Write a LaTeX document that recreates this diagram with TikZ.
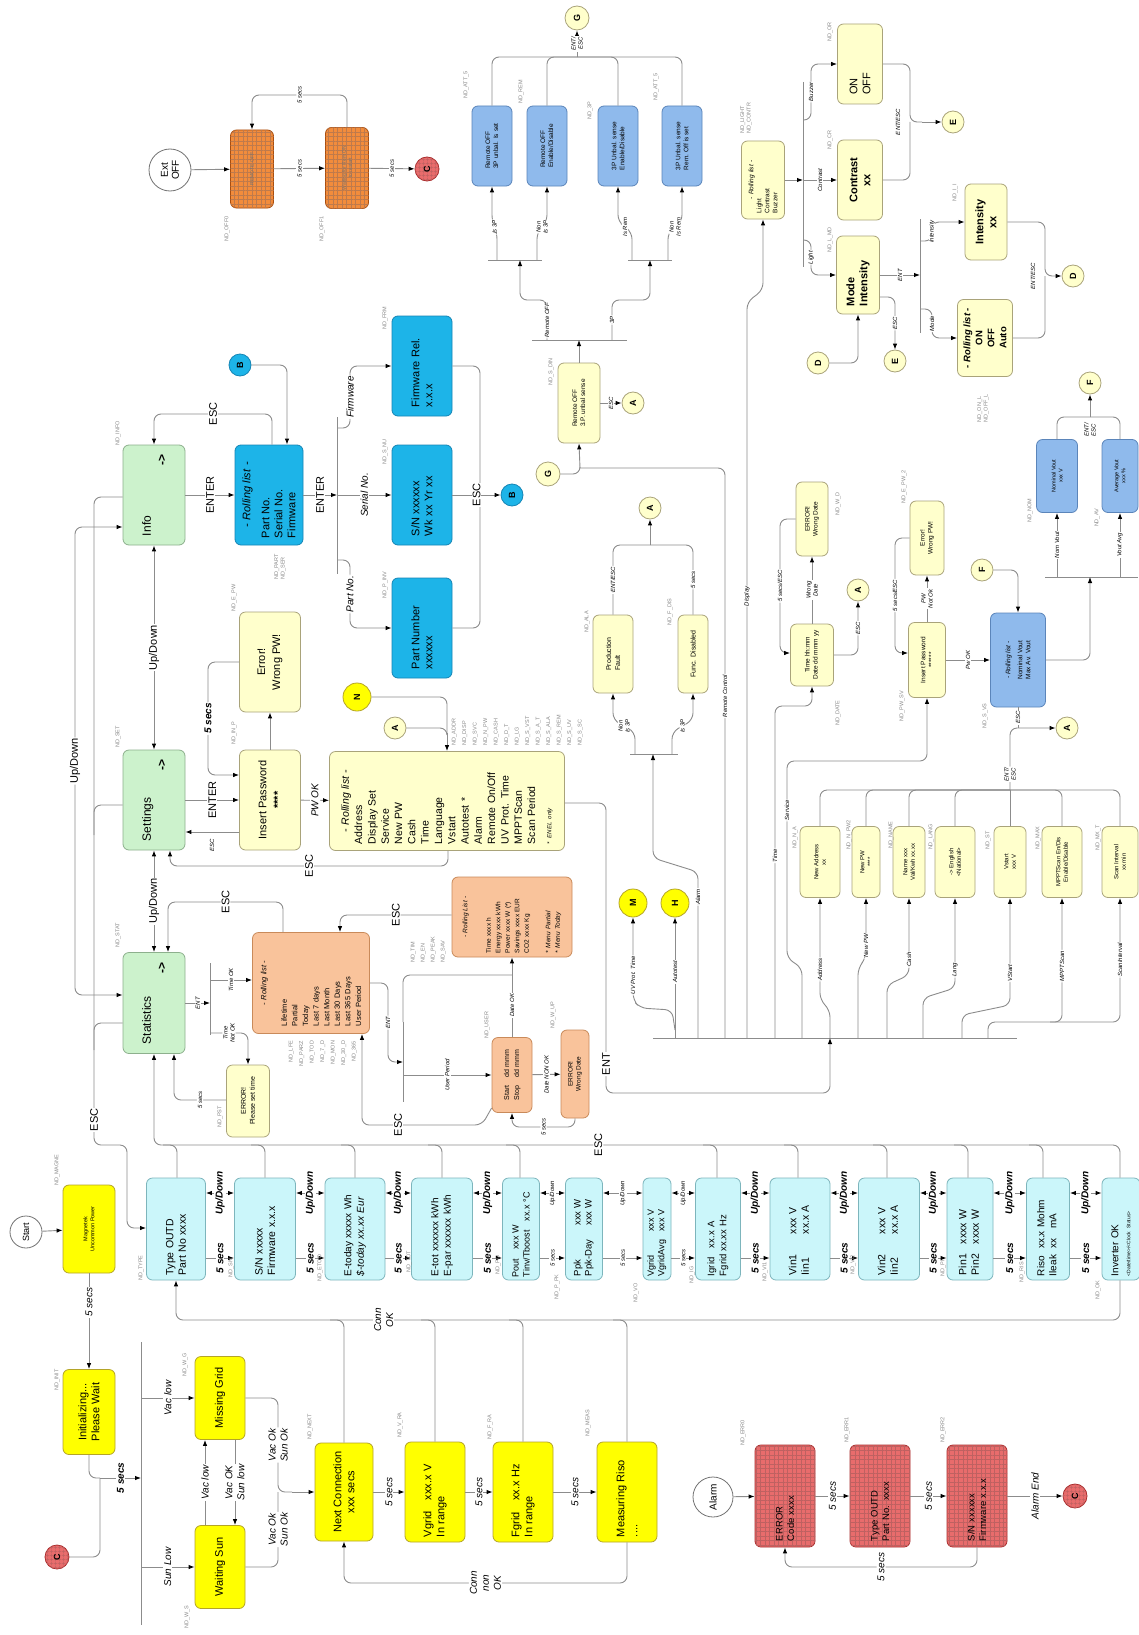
\documentclass[tikz,border=0pt]{standalone}
\usepackage{fontspec}
\setmainfont{Liberation Sans}
\usetikzlibrary{arrows.meta, patterns.meta}

\definecolor{lnC}{HTML}{8C8C8C}
\definecolor{grnF}{HTML}{CCF2CC}
\definecolor{grnD}{HTML}{8DB08D}
\definecolor{cyaF}{HTML}{1DB4E8}
\definecolor{cyaD}{HTML}{1585B5}
\definecolor{lcyF}{HTML}{CBF6FA}
\definecolor{lcyD}{HTML}{7DB5BC}
\definecolor{yelF}{HTML}{FFFF00}
\definecolor{yelD}{HTML}{B4A428}
\definecolor{lylF}{HTML}{FFFFCC}
\definecolor{lylD}{HTML}{A9A37A}
\definecolor{pchF}{HTML}{F9C39B}
\definecolor{pchD}{HTML}{C98A5A}
\definecolor{bluF}{HTML}{8FBAEC}
\definecolor{bluD}{HTML}{5B85BA}
\definecolor{orgF}{HTML}{F28C3C}
\definecolor{orgD}{HTML}{A84E10}
\definecolor{redF}{HTML}{E86C6C}
\definecolor{redD}{HTML}{A82C2C}
\definecolor{ndC}{HTML}{8A8A8A}

\newcommand{\fz}[2]{\fontsize{#1}{#2}\selectfont}

\begin{document}
\begin{tikzpicture}[x=1pt, y=-1pt, color=lnC, line width=0.9pt,
        >={Latex[length=6pt, width=4.5pt, color=black]},
        every node/.style={text=black},
        rc/.style={rounded corners=7pt},
        busline/.style={line width=0.9pt},
        sz/.style 2 args={minimum height=#1, minimum width=#2},
        bx/.style={rotate=90, draw, rounded corners=6pt, line width=0.8pt,
            inner sep=2pt, align=center, font=\fz{10.5}{12.5}},
        grn/.style={bx, fill=grnF, draw=grnD},
        cya/.style={bx, fill=cyaF, draw=cyaD},
        lcy/.style={bx, fill=lcyF, draw=lcyD},
        yel/.style={bx, fill=yelF, draw=yelD},
        lyl/.style={bx, fill=lylF, draw=lylD},
        pch/.style={bx, fill=pchF, draw=pchD},
        blu/.style={bx, fill=bluF, draw=bluD},
        org/.style={bx, fill=orgF, draw=orgD, text=black!55, font=\fz{5}{6},
            postaction={pattern={Hatch[angle=0, distance=4.5pt, line width=0.5pt]}, pattern color=orgD!75}},
        rgd/.style={bx, fill=redF, draw=redD, font=\fz{9.5}{11.5},
            postaction={pattern={Hatch[angle=0, distance=4.5pt, line width=0.5pt]}, pattern color=redD!75}},
        cir/.style={circle, draw=black!55, line width=0.8pt, rotate=90,
            inner sep=0pt, align=center, fill=white},
        ltr/.style={cir, minimum size=22pt, fill=lylF, draw=lylD, font=\fz{9}{10}\bfseries},
        redc/.style={cir, minimum size=24pt, fill=redF, draw=redD, font=\fz{9}{10}\bfseries,
            postaction={pattern={Hatch[angle=0, distance=4pt, line width=0.5pt]}, pattern color=redD!75}},
        lb/.style={rotate=90, fill=white, inner sep=1pt, align=center, font=\fz{11}{13}},
        lbi/.style={lb, font=\fz{10}{12}\itshape},
        lbb/.style={lb, font=\fz{10}{11}\bfseries\itshape},
        lbs/.style={lb, font=\fz{6}{7}\itshape},
        nd/.style={rotate=90, inner sep=0.5pt, align=left, font=\fz{5.5}{6.5}, text=ndC}]

    \fill[white] (0,0) rectangle (1139,1635);
    \useasboundingbox (0,0) rectangle (1139,1635);

    % --- Remote OFF entry ---
    \node[cir, minimum size=42pt, font=\fz{10}{11}] (extoff) at (170,170) {Ext\\OFF};
    \node[org, sz={43}{78}] (remoff) at (252,169) {REMOTE OFF};
    \node[org, sz={43}{81}] (waitrem) at (347,168) {Waiting for Rem ON\\to restart};
    \node[redc] (c1) at (427,169) {C};

    \draw[->] (extoff) -- (remoff);
    \draw[->] (remoff) -- node[lbs]{5 secs} (waitrem);
    \draw[->] (waitrem) -- node[lbs]{5 secs} (c1);
    \draw[->, rc] (waitrem.east) -- (347,95) -| node[lbs, pos=0.25]{5 secs} (remoff.east);

    % --- Remote OFF / 3P unbalance ---
    \node[lyl, sz={42}{80}, align=left, font=\fz{6.5}{8}] (sdin) at (579,403) {Remote OFF\\3.P. unbal sense};
    \node[blu, sz={40}{80}, align=left, font=\fz{6.5}{8}] (att1) at (492,146) {Remote OFF\\3P unbal. Is set};
    \node[blu, sz={40}{80}, align=left, font=\fz{6.5}{8}] (rem) at (547,146) {Remote OFF\\Enable/Disable};
    \node[blu, sz={40}{80}, align=left, font=\fz{6.5}{8}] (tp) at (618,146) {3P Unbal. sense\\Enable/Disable};
    \node[blu, sz={40}{80}, align=left, font=\fz{6.5}{8}] (att2) at (682,146) {3P Unbal. sense\\Rem. Off is set};
    \node[ltr, minimum size=24pt] (g1) at (577,18) {G};
    \node[ltr, minimum size=24pt] (g2) at (548,474) {G};
    \node[ltr] (a1) at (633,403) {A};

    \coordinate (barS) at (579,340);
    \coordinate (jS) at (580,468);
    \coordinate (jG) at (577,57);
    \draw[busline] (532,340) -- (627,340);
    \draw[busline] (488,260) -- (542,260);
    \draw[busline] (628,260) -- (672,260);
    \draw[->] (jS) -- (sdin.west);
    \draw[rc] (g2) -| (jS);
    \draw[->] (sdin.east) -- (barS);
    \draw[->] (sdin) -- node[lbs]{ESC} (a1);
    \draw[->, rc] (547,340) |- node[lbs, pos=0.25]{Remote OFF} (520,300) -- (520,260);
    \draw[->, rc] (612,340) |- node[lbs, pos=0.25]{3P} (650,300) -- (650,260);
    \draw[->, rc] (497,260) -- (497,232) -- node[lbs]{Is 3P} (492,222) -- (att1.west);
    \draw[->, rc] (537,260) -- (537,232) -- node[lbs]{Non\\Is 3P} (547,222) -- (rem.west);
    \draw[->, rc] (632,260) -- (632,232) -- node[lbs]{Is Rem} (618,222) -- (tp.west);
    \draw[->, rc] (668,260) -- (668,232) -- node[lbs]{Non\\Is Rem} (682,222) -- (att2.west);
    \foreach \n in {att1, rem, tp, att2} \draw[rc] (\n.east) |- (jG);
    \draw[->] (jG) -- node[lbs]{ENT/\\ESC} (g1);

    % --- Display menu ---
    \node[lyl, sz={43}{78}, align=left, text width=66pt, font=\fz{6.5}{8}] (lcb) at (763,180) {\hfill\textit{- Rolling list -}\hfill\null\\Light\\Contrast\\Buzzer};
    \node[lyl, sz={45}{80}, align=left, text width=62pt, font=\fz{11}{13}] (onoff) at (860,64) {ON\\OFF};
    \node[lyl, sz={45}{80}, font=\fz{11}{13}\bfseries] (contr) at (860,180) {Contrast\\xx};
    \node[lyl, sz={43}{78}, align=left, text width=62pt, font=\fz{11}{13}\bfseries] (mode) at (858,275) {Mode\\Intensity};
    \node[lyl, sz={42}{76}, font=\fz{11}{13}\bfseries] (inten) at (986,222) {Intensity\\xx};
    \node[lyl, sz={55}{77}, font=\fz{9.5}{12}\bfseries] (ooa) at (985,338) {\textit{- Rolling list -}\\ON\\OFF\\Auto};
    \node[ltr] (e1) at (953,122) {E};
    \node[ltr] (e2) at (895,361) {E};
    \node[ltr] (d1) at (1073,276) {D};
    \node[ltr] (d2) at (818,363) {D};

    \coordinate (barL) at (803,180);
    \coordinate (barM) at (920,275);
    \coordinate (jE) at (922,122);
    \coordinate (jD) at (1057,276);
    \draw[busline] (803,82) -- (803,267);
    \draw[busline] (920,219) -- (920,333);
    \draw[->] (lcb) -- (barL);
    \draw[->, rc] (803,120) -- (811,120) |- node[lbs, pos=0.25]{Buzzer} (onoff);
    \draw[->] (barL) -- node[lbs]{Contrast} (contr);
    \draw[->, rc] (803,240) -- (811,240) |- node[lbs, pos=0.25]{Light} (mode);
    \draw[rc] (onoff) -| (910,122) -- (jE);
    \draw[rc] (contr) -| (910,122);
    \draw[->] (jE) -- (e1);
    \node[lbs, fill=none] at (898,122) {ENT/ESC};
    \draw[->] (mode) -- node[lbs]{ENT} (barM);
    \draw[->, rc] (920,241) -- (932,241) |- node[lbs, pos=0.25]{Intensity} (inten);
    \draw[->, rc] (920,309) -- (932,309) |- node[lbs, pos=0.25]{Mode} (ooa);
    \draw[rc] (inten) -| (1045,276) -- (jD);
    \draw[rc] (ooa) -| (1045,276);
    \draw[->] (jD) -- (d1);
    \node[lbs, fill=none] at (1033,276) {ENT/ESC};
    \draw[->, rc] (mode.south |- 0,297) -| node[lbs, pos=0.75]{ESC} (e2);
    \draw[->, rc] (d2) -| (mode.west);

    % --- Info ---
    \node[grn, sz={62}{100}, align=left, text width=82pt, font=\fz{12}{15}] (info) at (154,495) {Info\\\hfill\textbf{->}};
    \node[cya, sz={68}{100}, align=left, text width=86pt, font=\fz{11}{13}] (rlinfo) at (269,495) {\hfill\textit{- Rolling list -}\hfill\null\\[6pt]Part No.\\Serial No.\\Firmware};
    \node[cya, sz={60}{100}, align=left, text width=82pt, font=\fz{11}{13}] (fw) at (422,366) {Firmware Rel.\\x.x.x};
    \node[cya, sz={60}{100}, align=left, text width=82pt, font=\fz{11}{13}] (sn) at (422,495) {S/N xxxxxx\\Wk xx Yr xx};
    \node[cya, sz={60}{100}, align=left, text width=82pt, font=\fz{11}{13}] (pn) at (422,628) {Part Number\\xxxxxx};
    \node[ltr, fill=cyaF, draw=cyaD] (b1) at (240,365) {B};
    \node[ltr, fill=cyaF, draw=cyaD] (b2) at (512,495) {B};

    \coordinate (barI) at (337,495);
    \coordinate (jB) at (480,495);
    \draw[busline] (337,417) -- (337,574);
    \draw[->] (info) -- node[lb]{ENTER} (rlinfo);
    \draw[->, rc] (rlinfo.east -| 272,0) -- (272,414) -| node[lb, pos=0.25]{ESC} (info.east);
    \draw[->, rc] (b1) -| (rlinfo.east -| 287,0);
    \draw[->] (rlinfo) -- node[lb]{ENTER} (barI);
    \draw[->, rc] (337,428) -- (350,428) |- node[lbi, pos=0.25]{Firmware} (fw);
    \draw[->] (barI) -- node[lbi]{Serial No.} (sn);
    \draw[->, rc] (337,560) -- (350,560) |- node[lbi, pos=0.25]{Part No.} (pn);
    \draw[rc] (fw) -| (jB);
    \draw[rc] (pn) -| (jB);
    \draw[->] (sn) -- node[lb]{ESC} (b2);

    % --- Settings ---
    \node[grn, sz={62}{100}, align=left, text width=82pt, font=\fz{12}{15}] (set) at (154,800) {Settings\\\hfill\textbf{->}};
    \node[lyl, sz={61}{100}, font=\fz{11}{15}] (ipw) at (270,800) {Insert Password\\\textbf{****}};
    \node[lyl, sz={61}{100}, font=\fz{11}{15}] (epw) at (270,662) {Error!\\Wrong PW!};
    \node[lyl, sz={235}{99}, align=left, text width=86pt, font=\fz{10.5}{13.3}] (rlset) at (447,801) {\hfill\textit{- Rolling list -}\hfill\null\\Address\\Display Set\\Service\\New PW\\Cash\\Time\\Language\\Vstart\\Autotest *\\Alarm\\Remote On/Off\\UV Prot. Time\\MPPTScan\\Scan Period\\[3pt]{\fz{6}{7}\itshape * ENEL only}};
    \node[ltr] (a2) at (395,728) {A};
    \node[ltr, minimum size=28pt, fill=yelF, draw=yelD] (n1) at (357,697) {N};

    \coordinate (jN) at (447,733);
    \draw[<->] (info) -- node[lb]{Up/Down} (set);
    \draw[->] (set) -- node[lb]{ENTER} (ipw);
    \draw[->] (ipw) -- (epw);
    \draw[->, rc] (epw.north) -- (208,662) |- node[lbb, pos=0.25]{5 secs} (ipw.north |- 0,775);
    \draw[->] (ipw.north |- 0,832) -- (set.south |- 0,832);
    \node[lbs, fill=none] at (212,845) {ESC};
    \draw[->] (ipw) -- node[lbi]{PW OK} (rlset);
    \draw[->, rc] (rlset.west -| 448,0) -- (448,866) -| node[lb, pos=0.25]{ESC} (set.west -| 170,0);
    \draw[rc] (n1) -| (jN);
    \draw[rc] (a2) -| (jN);
    \draw[->] (jN) -- (rlset.east -| 447,0);

    % --- Statistics ---
    \node[grn, sz={62}{101}, align=left, text width=82pt, font=\fz{12}{15}] (stat) at (154,1003) {Statistics\\\hfill\textbf{->}};
    \node[pch, sz={117}{101}, align=left, text width=86pt, font=\fz{7.5}{10.6}] (rlstat) at (311,983) {\hfill\textit{- Rolling list -}\hfill\null\\[10pt]Lifetime\\Partial\\Today\\Last 7 days\\Last Month\\Last 30 Days\\Last 365 Days\\User Period};
    \node[lyl, sz={43}{72}, font=\fz{7}{9}] (etime) at (248,1101) {ERROR!\\Please set time};
    \node[pch, sz={120}{80}, align=left, text width=72pt, font=\fz{6.5}{9.5}] (rlstat2) at (512,917) {\hfill\textit{- Rolling List -}\hfill\null\\[14pt]Time xxxx h\\Energy xxxx kWh\\Power xxxx W (*)\\Savings xxxx EUR\\CO2 xxxx Kg\\[12pt]\textit{* Menu Partial}\\\textit{* Menu Today}};
    \node[pch, sz={40}{75}, align=left, font=\fz{7}{10}] (strt) at (512,1075) {\begin{tabular}{@{}l@{\hspace{8pt}}l@{}}Start & dd mmm\\Stop & dd mmm\end{tabular}};
    \node[pch, sz={28}{88}, font=\fz{6.5}{8}] (edate) at (575,1074) {ERROR!\\Wrong Date};

    \coordinate (barT) at (210,1003);
    \coordinate (barU) at (403,1062);
    \coordinate (jR) at (512,975);
    \draw[busline] (210,963) -- (210,1035);
    \draw[busline] (403,1022) -- (403,1102);
    \draw[<->] (set) -- node[lb]{Up/Down} (stat);
    \draw[->, rc] (rlstat.east -| 283,0) -- (283,902) -| node[lb, pos=0.25]{ESC} (stat.east -| 168,0);
    \draw[->] (stat) -- node[lbs]{ENT} (barT);
    \draw[->] (barT |- 0,980) -- node[lbs]{Time OK} (rlstat.north |- 0,980);
    \draw[->, rc] (barT |- 0,1033) -| node[lbs, pos=0.25]{Time\\Not OK} (etime);
    \draw[->, rc] (etime.north |- 0,1100) -| node[lbs, pos=0.25]{5 secs} (stat.west -| 174,0);
    \draw[->, rc] (rlstat.south |- 0,983) -- (388,983) |- node[lbs, pos=0.25]{ENT} (barU);
    \draw[rc] (403,1022) |- (jR);
    \draw[->] (strt) -- node[lbs, pos=0.4]{Date OK} (rlstat2);
    \draw[->] (barU |- 0,1075) -- node[lbs]{User Period} (strt);
    \draw[->] (strt) -- node[lbs]{Date NON OK} (edate);
    \draw[->, rc] (edate.west) |- node[lbs, pos=0.75]{5 secs} (512,1127) -- (strt.west);
    \draw[->, rc] (strt.north |- 0,1108) -- (482,1125) -| node[lb, pos=0.35]{ESC} (rlstat.west -| 362,0);
    \draw[->, rc] (rlstat2.north |- 0,915) -| node[lb, pos=0.25]{ESC} (rlstat.east -| 340,0);

    % --- left bus lines ---
    \draw[<->, rc] (info.north |- 0,527) -- (75,527) -- node[lb]{Up/Down} (75,995) -- (stat.north |- 0,995);
    \draw[rc] (set.north |- 0,805) -| (94,835);
    \draw[rc] (stat.north |- 0,1023) -| (94,1050);

    % --- Alarm / Remote / Service branches ---
    \node[lyl, sz={40}{78}, align=left, font=\fz{7}{9}] (prod) at (613,654) {Production\\Fault};
    \node[lyl, sz={30}{78}, font=\fz{7}{9}] (fdis) at (693,654) {Func. Disabled};
    \node[ltr] (a3) at (650,508) {A};
    \node[ltr, minimum size=28pt, fill=yelF, draw=yelD] (m1) at (633,903) {M};
    \node[ltr, minimum size=28pt, fill=yelF, draw=yelD] (h1) at (675,903) {H};

    \coordinate (barB) at (830,1038);
    \coordinate (jA) at (650,545);
    \draw[busline] (653,1038) -- (1017,1038);
    \draw[busline] (630,754) -- (678,754);
    \draw[->, rc] (rlset.south |- 0,803) -- (606,803) -- node[lb, pos=0.9]{ENT} (606,1093) -| (barB);
    \draw[->] (675,1038) -- node[lbs, pos=0.55]{Autotest} (h1);
    \draw[->, rc] (675,1030) -- (672,1010) -- (640,1008) -- (633,1000) -- node[lbs, pos=0.3]{UV Prot. Time} (m1);
    \draw[->, rc] (698,1038) -- node[lbs, pos=0.85]{Alarm} (698,872) -- (653,858) -- (653,754);
    \draw[->, rc] (635,754) -- (635,732) -- node[lbs]{Non\\Is 3P} (613,720) -- (prod.west);
    \draw[->, rc] (672,754) -- (672,732) -- node[lbs]{Is 3P} (693,720) -- (fdis.west);
    \draw[rc] (prod.east) |- node[lbs, pos=0.25]{ENT/ESC} (jA);
    \draw[rc] (fdis.east) |- node[lbs, pos=0.25]{5 secs} (jA);
    \draw[->] (jA) -- (a3);
    \draw[rc] (725,1038) |- node[lbs, pos=0.3]{Remote Control} (jS);
    \draw[->, rc] (747,1038) -- node[lbs, pos=0.6]{Display} (747,302) -- (763,290) -- (lcb.west);

    % --- Time / Service ---
    \node[lyl, sz={43}{62}, font=\fz{6.5}{8}] (tdate) at (812,655) {Time hh:mm\\Date dd mmm yy};
    \node[lyl, sz={32}{74}, font=\fz{6.5}{8}] (edt) at (812,519) {ERROR!\\Wrong Date};
    \node[ltr] (a4) at (858,590) {A};
    \node[lyl, sz={37}{75}, font=\fz{6.5}{8}] (ipw2) at (927,660) {Insert Password\\******};
    \node[lyl, sz={34}{74}, font=\fz{6.5}{8}] (epw2) at (927,538) {Error!\\Wrong PW!};
    \node[blu, sz={55}{94}, font=\fz{6.5}{8}] (rlvout) at (1018,660) {\textit{- Rolling list -}\\[4pt]Nominal Vout\\Max Av. Vout};
    \node[blu, sz={41}{73}, font=\fz{5.5}{7}] (nom) at (1057,476) {Nominal Vout\\xxx V};
    \node[blu, sz={36}{73}, font=\fz{5.5}{7}] (avg) at (1120,476) {Average Vout\\xxx \%};
    \node[ltr] (f1) at (982,570) {F};
    \node[ltr] (f2) at (1090,383) {F};
    \node[ltr] (a5) at (1067,728) {A};

    \coordinate (jF) at (1090,417);
    \draw[->, rc] (775,1038) -- node[lbs, pos=0.55]{Time} (775,706) -| (tdate.west);
    \draw[->] (tdate) -- node[lbs]{Wrong\\Date} (edt);
    \draw[->, rc] (edt.north) -- (780,519) |- node[lbs, pos=0.25]{5 secs/ESC} (tdate.north |- 0,653);
    \draw[->, rc] (tdate.south |- 0,655) -| node[lbs, pos=0.75]{ESC} (a4);
    \draw[->, rc] (802,1038) -- (802,968) -- (787,958) -- node[lbs, pos=0.75]{Service} (787,761) -| (ipw2.west);
    \draw[->] (ipw2) -- node[lbs]{PW\\Not Ok} (epw2);
    \draw[->, rc] (epw2.north) -- (895,538) |- node[lbs, pos=0.25]{5 secs/ESC} (ipw2.north |- 0,653);
    \draw[->] (ipw2) -- node[lbs]{Pw OK} (rlvout);
    \draw[->, rc] (f1) -| (rlvout.east);
    \draw[busline] (1045,577) -- (1138,577);
    \draw[->, rc] (rlvout.south |- 0,660) -| (1090,577);
    \draw[->] (1057,577) -- node[lbs]{Nom Vout} (nom);
    \draw[->] (1120,577) -- node[lbs]{Vout Avg} (avg);
    \draw[rc] (nom.east) |- (jF);
    \draw[rc] (avg.east) |- (jF);
    \draw[->] (jF) -- (f2);
    \node[lbs, fill=none] at (1090,430) {ENT/\\ESC};

    % --- Settings editors ---
    \node[lyl, sz={40}{71}, font=\fz{6}{7.5}] (naddr) at (820,862) {New Address\\xx};
    \node[lyl, sz={28}{71}, font=\fz{6}{7.5}] (npw) at (866,862) {New PW\\****};
    \node[lyl, sz={32}{71}, font=\fz{6}{7.5}] (name) at (909,862) {Name xxx\\Val/Kwh xx.xx};
    \node[lyl, sz={40}{71}, font=\fz{6}{7.5}] (lang) at (955,862) {-> English\\<National>};
    \node[lyl, sz={32}{71}, font=\fz{6}{7.5}] (vst) at (1010,862) {Vstart\\xxx V};
    \node[lyl, sz={40}{71}, font=\fz{6}{7.5}] (mppt) at (1062,862) {MPPTScan En/Dis\\Enable/Disable};
    \node[lyl, sz={36}{71}, font=\fz{6}{7.5}] (scan) at (1120,862) {Scan Interval\\xx min};

    \draw[->, rc] (830,1038) -- (830,1010) -- (820,1000) -- node[lbs, pos=0.3]{Address} (naddr);
    \draw[->, rc] (858,1038) -- (858,968) -- (866,958) -- node[lbs, pos=0.2]{New PW} (npw);
    \draw[->, rc] (887,1038) -- (887,985) -- (909,975) -- node[lbs, pos=0.2]{Cash} (name);
    \draw[->, rc] (923,1038) -- (923,998) -- (955,988) -- node[lbs, pos=0.2]{Lang} (lang);
    \draw[->, rc] (962,1038) -- (962,1015) -- (1010,1005) -- node[lbs, pos=0.3]{VStart} (vst);
    \draw[->, rc] (988,1038) |- (1062,1022) -- node[lbs, pos=0.45]{MPPTScan} (mppt);
    \draw[->, rc] (1050,1022) -| node[lbs, pos=0.75]{ScanInterval} (scan);
    \foreach \n in {naddr, npw, name, lang, mppt, scan} \draw[rc] (\n.east) |- (1010,790);
    \draw (vst.east) -- (1010,790);
    \draw[->, rc] (1010,790) -- node[lbs, pos=0.35]{ENT/\\ESC} (1010,745) |- (a5);
    \draw (rlvout.west) -- node[lbs]{ESC} (rlvout.west |- 0,728);

    % --- Display loop ---
    \node[lcy, sz={59}{102}, align=left, text width=92pt] (typeoutd) at (176,1229) {Type OUTD\\Part No xxxx};
    \node[lcy, sz={61}{102}, align=left, text width=92pt] (snfw) at (265,1229) {S/N xxxxx\\Firmware x.x.x};
    \node[lcy, sz={60}{102}, align=left, text width=94pt, font=\fz{10}{12.5}] (etoday) at (355,1229) {E-today xxxxx Wh\\\textit{\$-today xx.xx Eur}};
    \node[lcy, sz={61}{102}, align=left, text width=94pt, font=\fz{10}{12.5}] (etot) at (442,1229) {E-tot xxxxxx kWh\\E-par xxxxxx kWh};
    \node[lcy, sz={37}{102}, align=left, text width=96pt, font=\fz{9}{11}] (pout) at (521,1229) {Pout\quad xxx W\\Tinv/Tboost\quad xx.x °C};
    \node[lcy, sz={37}{102}, align=left, text width=94pt, font=\fz{9.5}{11}] (ppk) at (584,1229) {\begin{tabular}{@{}l@{\hspace{14pt}}l@{}}Ppk & xxx W\\Ppk-Day & xxx W\end{tabular}};
    \node[lcy, sz={28}{102}, align=left, text width=94pt, font=\fz{9}{10.5}] (vgrid) at (657,1229) {\begin{tabular}{@{}l@{\hspace{8pt}}l@{}}Vgrid & xxx V\\VgridAvg & xxx V\end{tabular}};
    \node[lcy, sz={45}{102}, align=left, text width=94pt, font=\fz{9.5}{12}] (igrid) at (718,1229) {Igrid\quad xx.x A\\Fgrid xx.xx Hz};
    \node[lcy, sz={60}{102}, align=left, text width=92pt] (vin1) at (800,1229) {\begin{tabular}{@{}l@{\hspace{20pt}}l@{}}Vin1 & xxx V\\Iin1 & xx.x A\end{tabular}};
    \node[lcy, sz={61}{102}, align=left, text width=92pt] (vin2) at (889,1229) {\begin{tabular}{@{}l@{\hspace{20pt}}l@{}}Vin2 & xxx V\\Iin2 & xx.x A\end{tabular}};
    \node[lcy, sz={46}{102}, align=left, text width=92pt] (pin) at (970,1229) {\begin{tabular}{@{}l@{\hspace{10pt}}l@{}}Pin1 & xxxx W\\Pin2 & xxxx W\end{tabular}};
    \node[lcy, sz={43}{102}, align=left, text width=94pt, font=\fz{10}{12}] (riso) at (1048,1229) {\begin{tabular}{@{}l@{\hspace{6pt}}l@{}}Riso & xx.x Mohm\\Ileak & xx\quad mA\end{tabular}};
    \node[lcy, sz={38}{102}, align=left, text width=94pt, font=\fz{10}{12}] (invok) at (1121,1229) {Inverter OK\\{\fz{5}{6}<Date/time>/<Clock Status>}};

    \foreach \a/\b/\s in {typeoutd/snfw/lbb, snfw/etoday/lbb, etoday/etot/lbb, etot/pout/lbb,
            pout/ppk/lbs, ppk/vgrid/lbs, vgrid/igrid/lbs, igrid/vin1/lbb, vin1/vin2/lbb,
            vin2/pin/lbb, pin/riso/lbb, riso/invok/lbb} {
        \draw[<->] (\a.south |- 0,1193) -- node[\s]{Up/Down} (\b.north |- 0,1193);
        \draw[->] (\a.south |- 0,1258) -- node[\s]{5 secs} (\b.north |- 0,1258);
    }
    \foreach \n/\x in {typeoutd/177, snfw/265, etoday/355, etot/442, pout/520, igrid/717,
            vin1/798, vin2/887, pin/968, riso/1043}
        \draw[rc] (\n.east -| \x,0) |- (\x-14,1145);
    \draw[->, rc] (invok.east -| 1120,0) |- node[lb, pos=0.77]{ESC} (154,1145) -- (stat.west -| 154,0);
    \draw[->, rc] (info.north |- 0,497) -- (94,497) -- (94,1145) -- (127,1145) -- (127,1228) -- (typeoutd.north |- 0,1228);
    \node[lb] at (94,1120) {ESC};

    % --- Start-up ---
    \node[cir, minimum size=32pt, font=\fz{9}{10}] (start) at (26,1232) {Start};
    \node[yel, sz={52}{88}, font=\fz{5.5}{7}] (magn) at (89,1229) {Magnetek\\Uncommon Power};
    \node[yel, sz={52}{85}, font=\fz{11}{13}] (init) at (89,1412) {Initializing...\\Please Wait};
    \node[redc] (c2) at (57,1557) {C};
    \node[yel, sz={50}{83}, font=\fz{11}{13}] (missg) at (220,1398) {Missing Grid};
    \node[yel, sz={50}{83}, font=\fz{11}{13}] (waits) at (220,1567) {Waiting Sun};
    \node[yel, sz={58}{98}, font=\fz{11}{13}] (nextc) at (344,1492) {Next Connection\\xxx secs};
    \node[yel, sz={60}{100}, align=left, text width=90pt, font=\fz{11}{13}] (vgr) at (435,1492) {Vgrid\quad xxx.x V\\In range};
    \node[yel, sz={60}{100}, align=left, text width=90pt, font=\fz{11}{13}] (fgr) at (523,1492) {Fgrid\quad xx.x Hz\\In range};
    \node[yel, sz={60}{100}, align=left, text width=90pt, font=\fz{11}{13}] (meas) at (627,1492) {Measuring Riso\\....};

    \coordinate (jI) at (100,1478);
    \coordinate (barW) at (141,1478);
    \coordinate (jC) at (292,1492);
    \draw[busline] (141,1342) -- (141,1625);
    \draw[->] (start) -- (magn);
    \draw[->] (magn) -- node[lbi, pos=0.3]{5 secs} (init);
    \draw[rc] (init.west) |- (jI);
    \draw[rc] (c2) -| (jI);
    \draw[->] (jI) -- node[lbb]{5 secs} (barW);
    \draw[->] (barW |- 0,1398) -- node[lbi]{Vac low} (missg);
    \draw[->] (barW |- 0,1567) -- node[lbi]{Sun Low} (waits);
    \draw[->] (waits.east -| 205,0) -- node[lbi]{Vac low} (missg.west -| 205,0);
    \draw[->] (missg.west -| 235,0) -- node[lbi]{Vac OK\\Sun low} (waits.east -| 235,0);
    \draw[rc] (missg) -| node[lbi, pos=0.75]{Vac Ok\\Sun Ok} (278,1492) -- (jC);
    \draw[rc] (waits) -| node[lbi, pos=0.75]{Vac Ok\\Sun Ok} (278,1492);
    \draw[->] (jC) -- (nextc);
    \draw[->] (nextc) -- node[lbi]{5 secs} (vgr);
    \draw[->] (vgr) -- node[lbi]{5 secs} (fgr);
    \draw[->] (fgr) -- node[lbi]{5 secs} (meas);
    \draw[->, rc] (meas.west) |- node[lbi, pos=0.75]{Conn\\non\\OK} (344,1583) -- (nextc.west);
    \draw[->, rc] (invok.west -| 1120,0) |- node[lbi, pos=0.89]{Conn\\OK} (176,1320) -- (typeoutd.west -| 176,0);
    \foreach \n/\x in {nextc/344, vgr/435, fgr/523, meas/627}
        \draw[rc] (\n.east -| \x,0) |- (\x-14,1320);

    % --- Alarm ---
    \node[cir, minimum size=40pt, font=\fz{10}{11}] (alarm) at (713,1497) {Alarm};
    \node[rgd, sz={60}{102}, align=left, text width=90pt] (err0) at (785,1496) {ERROR\\Code xxxx};
    \node[rgd, sz={60}{102}, align=left, text width=90pt] (err1) at (880,1496) {Type OUTD\\Part No. xxxx};
    \node[rgd, sz={60}{102}, align=left, text width=90pt] (err2) at (977,1496) {S/N xxxxxx\\Firmware x.x.x};
    \node[redc] (c3) at (1075,1496) {C};

    \draw[->] (alarm) -- (err0);
    \draw[->] (err0) -- node[lbi]{5 secs} (err1);
    \draw[->] (err1) -- node[lbi]{5 secs} (err2);
    \draw[->] (err2) -- node[lbi]{Alarm End} (c3);
    \draw[->, rc] (err2.west) |- node[lbi, pos=0.75]{5 secs} (785,1567) -- (err0.west);

    % --- node ids ---
    \node[nd] at (227,229) {ND\_OFF0};
    \node[nd] at (322,229) {ND\_OFF1};
    \node[nd] at (118,433) {ND\_INFO};
    \node[nd] at (280,567) {ND\_PART\\ND\_SER};
    \node[nd] at (385,318) {ND\_FRM};
    \node[nd] at (385,452) {ND\_S\_NU};
    \node[nd] at (385,585) {ND\_P\_INV};
    \node[nd] at (118,737) {ND\_SET};
    \node[nd] at (234,733) {ND\_IN\_P};
    \node[nd] at (234,598) {ND\_E\_PW};
    \node[nd, anchor=north west, font=\fz{5.5}{10.5}] at (451,746) {ND\_ADDR\\ND\_DISP\\ND\_SVC\\ND\_N\_PW\\ND\_CASH\\ND\_D\_T\\ND\_LG\\ND\_S\_VST\\ND\_S\_A\_T\\ND\_S\_ALA\\ND\_S\_REM\\ND\_S\_UV\\ND\_S\_SC};
    \node[nd] at (118,935) {ND\_STAT};
    \node[nd, anchor=north east, align=right, font=\fz{5.5}{10.5}] at (288,1040) {ND\_LFE\\ND\_PARZ\\ND\_TOD\\ND\_7\_D\\ND\_MON\\ND\_30\_D\\ND\_365};
    \node[nd, anchor=north west, font=\fz{5.5}{10}] at (410,963) {ND\_TIM\\ND\_EN\\ND\_PEAK\\ND\_SAV};
    \node[nd] at (220,1117) {ND\_PST};
    \node[nd] at (487,1025) {ND\_USER};
    \node[nd] at (553,1015) {ND\_W\_UP};
    \node[nd] at (587,622) {ND\_ALA};
    \node[nd] at (670,612) {ND\_F\_DIS};
    \node[nd] at (551,372) {ND\_S\_DIN};
    \node[nd] at (466,85) {ND\_ATT\_5};
    \node[nd] at (521,92) {ND\_REM};
    \node[nd] at (590,111) {ND\_3P};
    \node[nd] at (656,87) {ND\_ATT\_5};
    \node[nd] at (746,118) {ND\_LIGHT\\ND\_CONTR};
    \node[nd] at (830,32) {ND\_OR};
    \node[nd] at (830,140) {ND\_CR};
    \node[nd] at (830,240) {ND\_L\_MD};
    \node[nd] at (955,193) {ND\_I\_I};
    \node[nd] at (983,408) {ND\_ON\_L\\ND\_OFF\_L};
    \node[nd] at (838,713) {ND\_DATE};
    \node[nd] at (838,504) {ND\_W\_D};
    \node[nd] at (902,706) {ND\_PW\_SV};
    \node[nd] at (904,487) {ND\_E\_PW\_2};
    \node[nd] at (985,716) {ND\_S\_VS};
    \node[nd] at (1030,511) {ND\_NOM};
    \node[nd] at (1097,518) {ND\_AV};
    \node[nd] at (795,838) {ND\_N\_A};
    \node[nd] at (849,835) {ND\_N\_PW2};
    \node[nd] at (891,835) {ND\_NAME};
    \node[nd] at (931,837) {ND\_LANG};
    \node[nd] at (988,840) {ND\_ST};
    \node[nd] at (1038,838) {ND\_MAX};
    \node[nd] at (1098,838) {ND\_MX\_T};
    \node[nd] at (141,1268) {ND\_TYPE};
    \node[nd] at (231,1268) {ND\_SN};
    \node[nd] at (320,1268) {ND\_ETOD};
    \node[nd] at (409,1262) {ND\_TOT};
    \node[nd] at (498,1265) {ND\_PO};
    \node[nd] at (557,1287) {ND\_P\_PK};
    \node[nd] at (636,1293) {ND\_VO};
    \node[nd] at (692,1275) {ND\_IG};
    \node[nd] at (765,1272) {ND\_VI1};
    \node[nd] at (853,1265) {ND\_VI2};
    \node[nd] at (943,1268) {ND\_PI};
    \node[nd] at (1022,1272) {ND\_RIS};
    \node[nd] at (1098,1290) {ND\_OK};
    \node[nd] at (57,1170) {ND\_MAGNE};
    \node[nd] at (57,1380) {ND\_INIT};
    \node[nd] at (185,1365) {ND\_W\_G};
    \node[nd] at (187,1617) {ND\_W\_S};
    \node[nd] at (310,1427) {ND\_NEXT};
    \node[nd] at (400,1425) {ND\_V\_RA};
    \node[nd] at (490,1427) {ND\_F\_RA};
    \node[nd] at (588,1423) {ND\_MEAS};
    \node[nd] at (743,1433) {ND\_ERR0};
    \node[nd] at (847,1430) {ND\_ERR1};
    \node[nd] at (943,1430) {ND\_ERR2};

\end{tikzpicture}
\end{document}
